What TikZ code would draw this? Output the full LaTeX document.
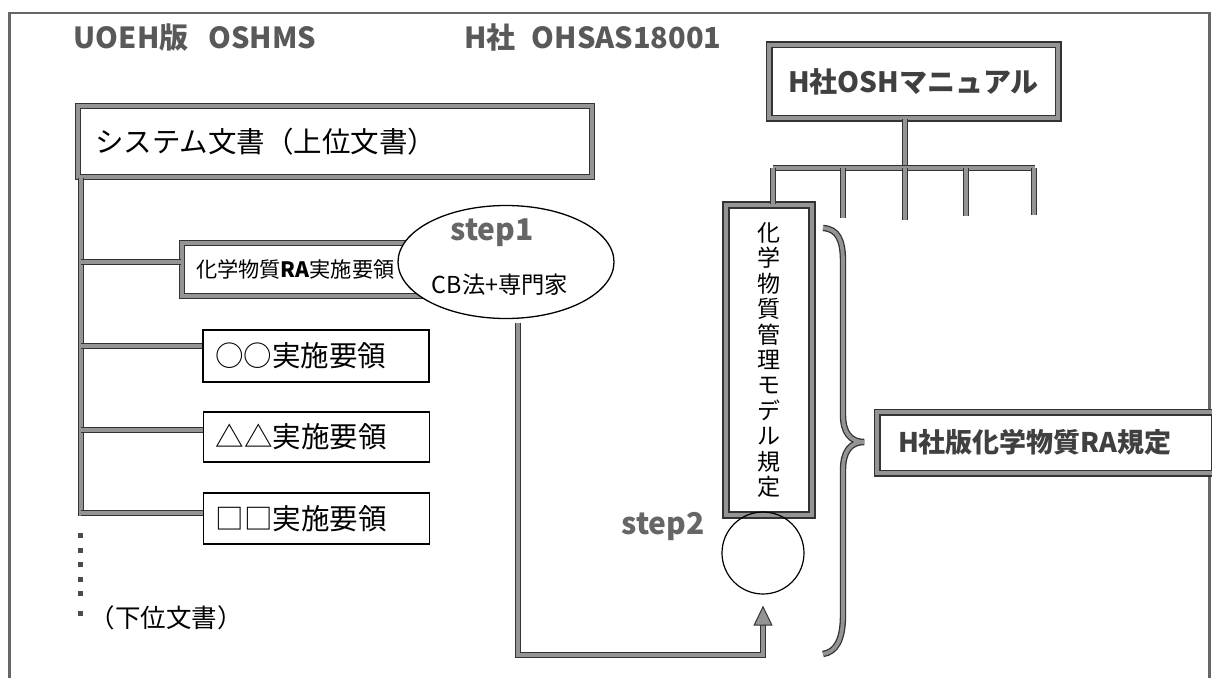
\documentclass[tikz,border=0pt]{standalone}
\usepackage{fontspec}
\setmainfont{Noto Sans CJK JP}
\usetikzlibrary{arrows.meta,shapes.geometric}
\tikzset{
  gline/.style={draw=black!80, line width=1.3pt, double=black!42, double distance=3.8pt},
  gbox/.style={gline, fill=white, rectangle, inner sep=0pt},
  tbox/.style={draw=black, line width=1.6pt, fill=white, rectangle, inner sep=0pt},
  titletext/.style={text=black!65, font=\bfseries\fontsize{29}{32}\selectfont},
  steptext/.style={text=black!60, font=\bfseries\fontsize{30}{34}\selectfont},
  bigtext/.style={font=\fontsize{28.5}{32}\selectfont},
  arrowtip/.style={-{Triangle[length=20pt,width=19pt,fill=black!42]}, draw=black!80, line width=1pt},
}
\begin{document}
\begin{tikzpicture}[x=1pt,y=-1pt]
\useasboundingbox (0,0) rectangle (1212,677);
\clip (0,0) rectangle (1212,677);
% outer frame
\draw[black!60, line width=2.5pt] (9.5,13) rectangle (1209.5,720);
% titles
\node[titletext] (t1) at (195,38) {UOEH版\hspace{20pt}OSHMS};
\node[titletext] (t2) at (593,38) {H社\hspace{16pt}OHSAS18001};
% left tree
\node[gbox, minimum width=514, minimum height=71, text width=480, align=left, bigtext] (sys) at (335,141.5) {システム文書（上位文書）};
\coordinate (b0) at (81,0);
\coordinate (tend) at (81,516);
\draw[gline] (sys.south -| b0) -- (tend);
\node[gbox, minimum width=238, minimum height=53, text width=210, align=left, font=\fontsize{21.2}{24}\selectfont] (chem) at (301,269.5) {化学物質\textbf{RA}実施要領};
\node[tbox, minimum width=226, minimum height=52, text width=202, align=left, bigtext] (oo) at (316,356) {○○実施要領};
\node[tbox, minimum width=226, minimum height=50, text width=202, align=left, bigtext] (tt) at (316.5,437) {△△実施要領};
\node[tbox, minimum width=226, minimum height=51, text width=202, align=left, bigtext] (ss) at (316.5,518.5) {□□実施要領};
\draw[gline] (81,262) -- (chem.west |- 0,262);
\draw[gline] (81,346) -- (oo.west |- 0,346);
\draw[gline] (81,430) -- (tt.west |- 0,430);
\draw[gline] (81,513) -- (ss.west |- 0,513);
\foreach \y in {535,550,564,579,593,613} \fill[black!70] (77.5,\y-2.5) rectangle ++(5.5,5.5);
\node[anchor=west, font=\fontsize{25.5}{28}\selectfont] (low) at (86,618) {（下位文書）};
% step1 ellipse
\node[ellipse, draw, line width=1.3pt, fill=white, minimum width=216, minimum height=113, inner sep=0pt] (step1) at (506,262) {};
\node[steptext] (s1t) at (492,233) {step1};
\node[font=\fontsize{23.3}{26}\selectfont] (cb) at (500,285) {CB法+専門家};
% right side
\node[gbox, line width=1.5pt, double distance=4pt, minimum width=289, minimum height=73, font=\bfseries\fontsize{28}{30}\selectfont, text=black!75] (osh) at (913.5,81.5) {H社OSHマニュアル};
\node[gbox, line width=1.5pt, double distance=4.5pt, minimum width=86, minimum height=310, align=center, font=\fontsize{23}{25.4}\selectfont] (model) at (769,360) {化\\学\\物\\質\\管\\理\\モ\\デ\\ル\\規\\定};
\coordinate (hL) at (773,168);
\coordinate (hR) at (1035,168);
\coordinate (hM) at (905,168);
\draw[gline] (osh.south -| hM) -- (hM);
\draw[gline] (hL) -- (hR);
\draw[gline] (hL) -- (model.north -| hL);
\coordinate (d2) at (843,218);
\coordinate (d3) at (905,220);
\coordinate (d4) at (966,216);
\coordinate (d5) at (1034,215);
\draw[gline] (d2 |- hL) -- (d2);
\draw[gline] (d3 |- hL) -- (d3);
\draw[gline] (d4 |- hL) -- (d4);
\draw[gline] (d5 |- hL) -- (d5);
% step2
\node[circle, draw, line width=1.2pt, minimum size=82, inner sep=0pt] (s2) at (763,553) {};
\node[steptext] (s2t) at (663,526) {step2};
\coordinate (ab) at (763,625);
\draw[gline] ([xshift=12pt,yshift=-4pt]step1.south) |- (ab |- 0,655) -- (ab);
\draw[arrowtip] (ab) -- ([yshift=-11pt]s2.south);
% brace
\draw[gline] (823,228) .. controls (838,229) and (843,240) .. (843,262) -- (843,415) .. controls (843,432) and (850,442) .. (864,442) .. controls (850,442) and (843,452) .. (843,470) -- (843,615) .. controls (843,640) and (836,652) .. (823,654);
\node[gbox, line width=1.5pt, double distance=4pt, minimum width=337, minimum height=61, text width=295, align=left, font=\bfseries\fontsize{27}{30}\selectfont, text=black!75] (ra) at (1045.5,442.5) {H社版化学物質RA規定};
\end{tikzpicture}
\end{document}
